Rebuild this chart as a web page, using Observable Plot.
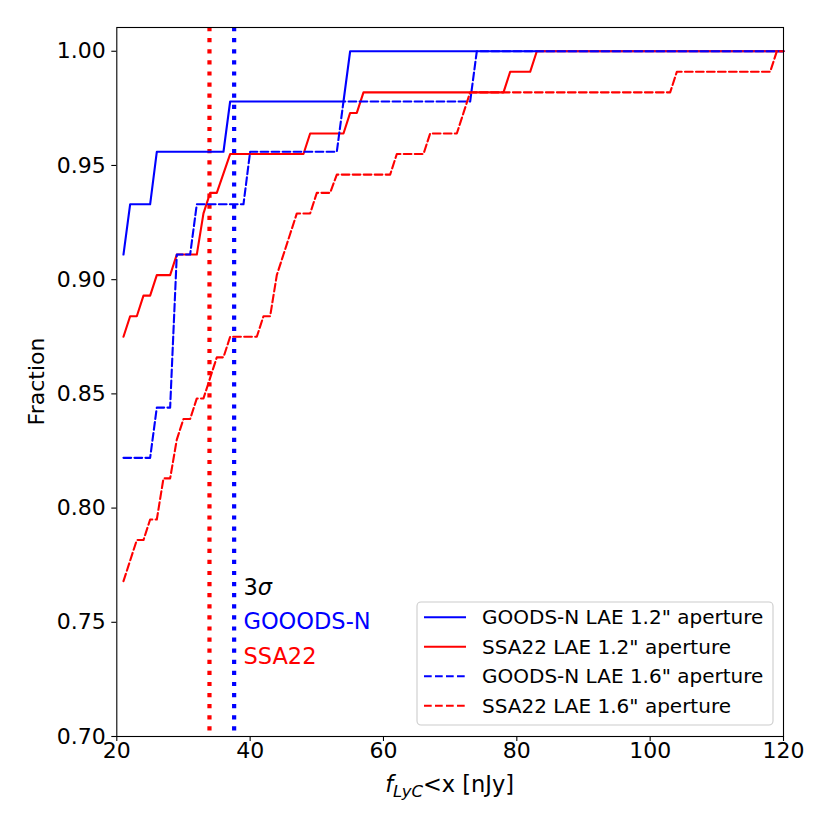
<!DOCTYPE html>
<html>
<head>
<meta charset="utf-8">
<script src="https://cdn.jsdelivr.net/npm/d3@7"></script>
<script src="https://cdn.jsdelivr.net/npm/@observablehq/plot@0.6"></script>
<style>
  html, body { margin: 0; padding: 0; background: white; }
  #chart svg { display: block; }
</style>
</head>
<body>
<div id="chart"></div>
<script>
// ---- data ----
const xTicks = [20, 40, 60, 80, 100, 120];
const yTicks = [0.70, 0.75, 0.80, 0.85, 0.90, 0.95, 1.00];

// GOODS-N LAE 1.2" aperture (solid blue)
const gn12X = [21, 22, 25, 26, 36, 37, 54, 55, 120];
const gn12Y = [0.911, 0.933, 0.933, 0.956, 0.956, 0.978, 0.978, 1.0, 1.0];

// SSA22 LAE 1.2" aperture (solid red)
const ssa12X = [21, 22, 23, 24, 25, 26, 28, 29, 32, 33, 34, 35, 37, 48, 49, 54, 55, 56, 57, 78, 79, 82, 83, 120];
const ssa12Y = [0.875, 0.884, 0.884, 0.893, 0.893, 0.902, 0.902, 0.911, 0.911, 0.929, 0.938, 0.938, 0.955, 0.955, 0.964, 0.964, 0.973, 0.973, 0.982, 0.982, 0.991, 0.991, 1.0, 1.0];

// GOODS-N LAE 1.6" aperture (dashed blue)
const gn16X = [21, 25, 26, 28, 29, 31, 32, 39, 40, 53, 54, 73, 74, 120];
const gn16Y = [0.822, 0.822, 0.844, 0.844, 0.911, 0.911, 0.933, 0.933, 0.956, 0.956, 0.978, 0.978, 1.0, 1.0];

// SSA22 LAE 1.6" aperture (dashed red)
const ssa16X = [21, 22, 23, 24, 25, 26, 27, 28, 29, 30, 31, 32, 33, 34, 35, 36, 37,
                41, 42, 43, 44, 45, 46, 47, 49, 50, 52, 53, 61, 62, 66, 67, 71, 72, 73,
                103, 104, 118, 119, 120];
const ssa16Y = [0.768, 0.777, 0.786, 0.786, 0.795, 0.795, 0.813, 0.813, 0.830, 0.839, 0.839, 0.848, 0.848, 0.857, 0.866, 0.866, 0.875,
                0.875, 0.884, 0.884, 0.902, 0.911, 0.920, 0.929, 0.929, 0.938, 0.938, 0.946, 0.946, 0.955, 0.955, 0.964, 0.964, 0.973, 0.982,
                0.982, 0.991, 0.991, 1.0, 1.0];

// 3-sigma limits
const limitGN = 37.6;
const limitSSA = 33.9;

// annotations
const sigmaLabel = ["3", "σ"];
const sigmaY = 0.765;
const noteLabels = ["GOOODS-N", "SSA22"];
const noteY = [0.75, 0.735];
const noteX = 39;

const legendLabels = [
  'GOODS-N LAE 1.2" aperture',
  'SSA22 LAE 1.2" aperture',
  'GOODS-N LAE 1.6" aperture',
  'SSA22 LAE 1.6" aperture'
];

const BLUE = "#0000ff", RED = "#ff0000";
const toRows = (xs, ys) => xs.map((x, i) => ({x, y: ys[i]}));

const W = 830, H = 830;
const mL = 116.3, mR = 47, mT = 27, mB = 94;

const dash = "7.7,3.3";
const dot = "4.2,6.9";
const noteSize = 22.5;

const chart = Plot.plot({
  width: W, height: H,
  marginLeft: mL, marginRight: mR, marginTop: mT, marginBottom: mB,
  style: {fontFamily: "DejaVu Sans", background: "white", overflow: "visible"},
  x: {domain: [20, 120]},
  y: {domain: [0.70, 1.0104]},
  marks: [
    Plot.ruleX([limitSSA], {stroke: RED, strokeWidth: 4.2, strokeDasharray: dot}),
    Plot.ruleX([limitGN], {stroke: BLUE, strokeWidth: 4.2, strokeDasharray: dot}),
    Plot.line(toRows(gn12X, gn12Y), {x: "x", y: "y", stroke: BLUE, strokeWidth: 2.1}),
    Plot.line(toRows(ssa12X, ssa12Y), {x: "x", y: "y", stroke: RED, strokeWidth: 2.1}),
    Plot.line(toRows(gn16X, gn16Y), {x: "x", y: "y", stroke: BLUE, strokeWidth: 2.1, strokeDasharray: dash}),
    Plot.line(toRows(ssa16X, ssa16Y), {x: "x", y: "y", stroke: RED, strokeWidth: 2.1, strokeDasharray: dash}),
    Plot.frame({stroke: "black", strokeWidth: 1.1}),
    Plot.axisX({ticks: xTicks, tickSize: 5, tickPadding: 1, fontSize: 22, label: null,
                tickFormat: d => String(d), stroke: "black", strokeWidth: 1.1, fill: "black"}),
    Plot.axisY({ticks: yTicks, tickSize: 5, tickPadding: 6, fontSize: 22, label: null,
                tickFormat: d3.format(".2f"), stroke: "black", strokeWidth: 1.1, fill: "black"}),
    Plot.text([sigmaLabel[0]], {x: noteX, y: sigmaY, text: d => d, textAnchor: "start", lineAnchor: "middle",
               fontSize: noteSize, fill: "black"}),
    Plot.text([sigmaLabel[1]], {x: noteX, y: sigmaY, text: d => d, textAnchor: "start", lineAnchor: "middle",
               fontSize: noteSize, fill: "black", fontStyle: "italic", dx: 14.3}),
    Plot.text([noteLabels[0]], {x: noteX, y: noteY[0], text: d => d, textAnchor: "start", lineAnchor: "middle",
               fontSize: noteSize, fill: BLUE}),
    Plot.text([noteLabels[1]], {x: noteX, y: noteY[1], text: d => d, textAnchor: "start", lineAnchor: "middle",
               fontSize: noteSize, fill: RED})
  ]
});

document.getElementById("chart").appendChild(chart);

// ---- axis titles and legend ----
const svg = d3.select(chart);
const font = "DejaVu Sans";

// y label
svg.append("text")
  .attr("transform", `translate(36, ${(mT + H - mB) / 2}) rotate(-90)`)
  .attr("text-anchor", "middle")
  .attr("dominant-baseline", "central")
  .attr("font-family", font).attr("font-size", 22).attr("fill", "black")
  .text("Fraction");

// x label: f_{LyC}<x [nJy]
const xl = svg.append("text")
  .attr("x", (mL + W - mR) / 2).attr("y", 792)
  .attr("text-anchor", "middle")
  .attr("font-family", font).attr("font-size", 22.5).attr("fill", "black");
xl.append("tspan").attr("font-style", "italic").text("f");
xl.append("tspan").attr("font-style", "italic").attr("font-size", 16.5).attr("dy", 5).text("LyC");
xl.append("tspan").attr("dy", -5).text("<x [nJy]");

// legend
const lgX = 417, lgY = 602, lgW = 356, lgH = 123;
const lg = svg.append("g").attr("text-anchor", "start");
lg.append("rect")
  .attr("x", lgX).attr("y", lgY).attr("width", lgW).attr("height", lgH).attr("rx", 4)
  .attr("fill", "white").attr("fill-opacity", 0.8)
  .attr("stroke", "#cccccc").attr("stroke-width", 1.1);
const lgColors = [BLUE, RED, BLUE, RED];
const lgDash = [null, null, dash, dash];
legendLabels.forEach((lab, i) => {
  const cy = 617.3 + i * 29.5;
  lg.append("line")
    .attr("x1", 424).attr("x2", 466).attr("y1", cy).attr("y2", cy)
    .attr("stroke", lgColors[i]).attr("stroke-width", 2.1)
    .attr("stroke-dasharray", lgDash[i]);
  lg.append("text")
    .attr("x", 482).attr("y", cy)
    .attr("text-anchor", "start")
    .attr("dominant-baseline", "central")
    .attr("font-family", font).attr("font-size", 20).attr("fill", "black")
    .text(lab);
});
</script>
</body>
</html>
